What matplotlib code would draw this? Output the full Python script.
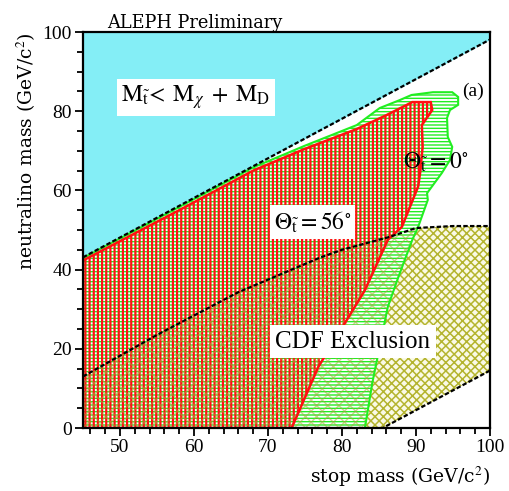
import numpy as np
import matplotlib
matplotlib.use("Agg")
import matplotlib.pyplot as plt
from matplotlib.patches import Polygon
from matplotlib.ticker import MultipleLocator

plt.rcParams['font.family'] = ['Liberation Serif', 'DejaVu Serif']
plt.rcParams['mathtext.fontset'] = 'stix'

# kinematic limit  M_chi = M_stop - M_D
kin_x = [45, 100]
kin_y = [43.1, 98.1]

# Theta = 56 deg excluded region (red)
red_x = [45, 45, 58, 68, 75, 82, 86, 89.5, 92, 92.2, 90.8, 90.9, 90.6, 90.3,
         88.1, 86.2, 83.1, 80.4, 76.8, 73.2]
red_y = [0, 42.3, 55, 65, 70.5, 75.5, 79, 82.3, 82.3, 80.3, 76.5, 71, 65, 61,
         50.8, 47.5, 34.8, 26.5, 15.4, 0]

# Theta = 0 deg excluded region (green)
green_x = [45, 45, 58, 68, 75, 82, 85.1, 87.8, 89.4, 92.3, 94.9, 95.7, 95.7,
           94.6, 94.2, 94.3, 94.9, 94.6, 93.5, 91.5, 91.6, 90.3, 89.5, 87.6,
           86.2, 84.1, 83.1]
green_y = [0, 42.9, 55.8, 65.8, 71.3, 76.5, 80.8, 82.8, 84.1, 84.8, 84.8, 83.6,
           81.6, 80.3, 78.3, 73.5, 71, 67.7, 64.4, 59.3, 57.6, 50.8, 47.5, 38,
           30.6, 11.4, 0]

# CDF exclusion
cdf_top_x = [45, 55, 66, 77, 80, 86.5, 90, 95, 100]
cdf_top_y = [13, 23.5, 34.3, 43, 45, 48.3, 50.5, 51, 51]
cdf_low_x = [100, 85.5]
cdf_low_y = [14.5, 0]

fig = plt.figure(figsize=(5.1, 4.91), dpi=100)
ax = fig.add_axes([0.1627, 0.1283, 0.798, 0.8065])

# cyan forbidden region
ax.fill_between(kin_x, kin_y, 100, color='#84eef6', lw=0, zorder=1)

cdf_x = [45] + cdf_top_x + cdf_low_x
cdf_y = [0] + cdf_top_y + cdf_low_y
cpts = np.column_stack([cdf_x, cdf_y])
gpts = np.column_stack([green_x, green_y])
rpts = np.column_stack([red_x, red_y])

# CDF region
with plt.rc_context({'hatch.linewidth': 1.1}):
    ax.add_patch(Polygon(cpts, closed=True, facecolor='#fafae6',
                         edgecolor='#b4b42e', hatch='xxxx', lw=0, zorder=2))

# green (horizontal hatch)
with plt.rc_context({'hatch.linewidth': 1.0}):
    ax.add_patch(Polygon(gpts, closed=True, facecolor='white',
                         edgecolor='#22ee22', hatch='-----', lw=0, zorder=3))
    # CDF texture seen through the LEP regions
    ov = Polygon(cpts, closed=True, facecolor='none', edgecolor='#a8a838',
                 hatch='xxx', lw=0, alpha=0.55, zorder=4.5)
    ax.add_patch(ov)
    ov.set_clip_path(Polygon(gpts, closed=True, transform=ax.transData))

# red (vertical hatch)
with plt.rc_context({'hatch.linewidth': 1.6}):
    ax.add_patch(Polygon(rpts, closed=True, facecolor='none',
                         edgecolor='#ff1010', hatch='||||', lw=0, zorder=4))

ax.add_patch(Polygon(gpts, closed=True, facecolor='none', edgecolor='#22ee22',
                     lw=1.5, zorder=5))
ax.add_patch(Polygon(rpts, closed=True, facecolor='none', edgecolor='#ff1010',
                     lw=1.8, zorder=5))

# boundary lines
ax.plot(kin_x, kin_y, color='black', lw=1.6, ls=(0, (2, 1)), zorder=6)
ax.plot(cdf_top_x, cdf_top_y, color='black', lw=1.6, ls=(0, (2, 1)), zorder=6)
ax.plot(cdf_low_x, cdf_low_y, color='black', lw=1.6, ls=(0, (2, 1)), zorder=6)

# labels
box = dict(facecolor='white', edgecolor='none', pad=3)
ax.text(50.2, 83.5,
        r'$\mathrm{M}_{\tilde{\mathrm{t}}}\!<\;\mathrm{M}_{\chi}\;+\;\mathrm{M}_{\mathrm{D}}$',
        fontsize=17, va='center', ha='left', bbox=box, zorder=8)
ax.text(70.8, 52, r'$\Theta_{\tilde{\mathrm{t}}}=56^{\circ}$', fontsize=17,
        va='center', ha='left', bbox=box, zorder=8)
ax.text(88.2, 67, r'$\Theta_{\tilde{\mathrm{t}}}=0^{\circ}$', fontsize=17,
        va='center', ha='left', zorder=8)
ax.text(71, 21.8, 'CDF Exclusion', fontsize=18, va='center', ha='left',
        bbox=dict(facecolor='white', edgecolor='none', pad=4), zorder=8)
ax.text(96.2, 85, '(a)', fontsize=14, va='center', ha='left', zorder=8)

ax.set_xlim(45, 100)
ax.set_ylim(0, 100)
ax.xaxis.set_major_locator(MultipleLocator(10))
ax.xaxis.set_minor_locator(MultipleLocator(2))
ax.yaxis.set_major_locator(MultipleLocator(20))
ax.yaxis.set_minor_locator(MultipleLocator(5))
ax.tick_params(which='both', direction='out', labelsize=14, width=1.3)
ax.tick_params(which='major', length=6, pad=2)
ax.tick_params(which='minor', length=4)
for s in ax.spines.values():
    s.set_linewidth(1.6)
    s.set_zorder(10)

lab = ['DejaVu Serif']
ax.set_xlabel(r'stop mass (GeV/c$^2$)', fontsize=13.5, family=lab, loc='right',
              labelpad=6)
ax.set_ylabel(r'neutralino mass (GeV/c$^2$)', fontsize=13.5, family=lab,
              loc='top', labelpad=3)
ax.set_title('ALEPH Preliminary', fontsize=12.8, family=lab, loc='left', x=0.06,
             pad=3)

fig.savefig('out.png', dpi=100)
